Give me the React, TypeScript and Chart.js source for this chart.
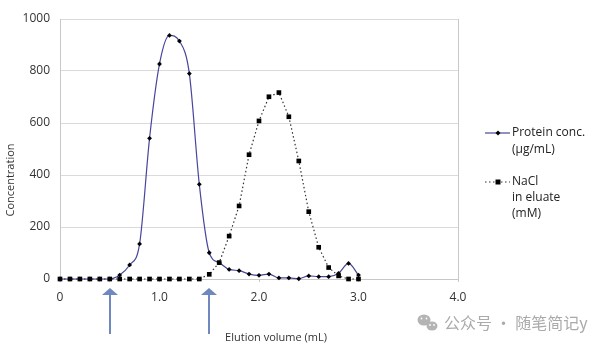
import { useEffect, useRef } from 'react';
import { Chart, registerables } from 'chart.js';

Chart.register(...registerables);

const elutionVolumes = [0.0, 0.1, 0.2, 0.3, 0.4, 0.5, 0.6, 0.7, 0.8, 0.9, 1.0, 1.1, 1.2, 1.3, 1.4, 1.5, 1.6, 1.7, 1.8, 1.9, 2.0, 2.1, 2.2, 2.3, 2.4, 2.5, 2.6, 2.7, 2.8, 2.9, 3.0];
const proteinConc = [0, 0, 0, 0, 0, 0, 15, 54, 135, 541, 827, 937, 915, 790, 364, 101, 63, 37, 32, 19, 14, 19, 4, 4, 1, 12, 9, 9, 22, 60, 15];
const naclConc = [0, 0, 0, 0, 0, 0, 0, 0, 0, 0, 0, 0, 0, 0, 0, 18, 63, 165, 281, 478, 608, 701, 717, 624, 454, 259, 122, 44, 12, 0, 0];
const xTickValues = [0, 1, 2, 3, 4];
const xTickLabels = ['0', '1.0', '2.0', '3.0', '4.0'];
const yTickValues = [0, 200, 400, 600, 800, 1000];
const yTickLabels = ['0', '200', '400', '600', '800', '1000'];
const arrowVolumes = [0.5, 1.5];
const proteinLegend = ['Protein conc.', '(µg/mL)'];
const naclLegend = ['NaCl', 'in eluate', '(mM)'];
const xTitle = 'Elution volume (mL)';
const yTitle = 'Concentration';
const watermark = '公众号 · 随笔简记y';

const FONT = '"Open Sans", "DejaVu Sans", sans-serif';
const PROTEIN_COLOR = '#46469c';
const NACL_COLOR = '#333333';
const ARROW_COLOR = '#7088bf';
const TEXT_COLOR = '#333333';

const extrasPlugin = {
  id: 'extras',
  afterDraw(chart: any) {
    const ctx = chart.ctx as CanvasRenderingContext2D;
    const xs = chart.scales.x;
    ctx.save();

    // arrows
    ctx.fillStyle = ARROW_COLOR;
    arrowVolumes.forEach((v) => {
      const px = Math.round(xs.getPixelForValue(v));
      ctx.beginPath();
      ctx.moveTo(px, 288);
      ctx.lineTo(px - 8, 295);
      ctx.lineTo(px + 8, 295);
      ctx.closePath();
      ctx.fill();
      ctx.fillRect(px - 1, 294, 2, 40);
    });

    // axis titles
    ctx.fillStyle = TEXT_COLOR;
    ctx.font = `11px ${FONT}`;
    ctx.textAlign = 'center';
    ctx.textBaseline = 'middle';
    ctx.fillText(xTitle, 276, 338);
    ctx.save();
    ctx.translate(11, 180);
    ctx.rotate(-Math.PI / 2);
    ctx.fillText(yTitle, 0, 0);
    ctx.restore();

    // legend
    ctx.font = `12px ${FONT}`;
    ctx.textAlign = 'left';
    ctx.fillStyle = '#222222';
    proteinLegend.forEach((t, i) => ctx.fillText(t, 512, 133 + i * 17));
    naclLegend.forEach((t, i) => ctx.fillText(t, 512, 182 + i * 16));
    ctx.strokeStyle = PROTEIN_COLOR;
    ctx.lineWidth = 1.2;
    ctx.beginPath();
    ctx.moveTo(485, 133);
    ctx.lineTo(510, 133);
    ctx.stroke();
    ctx.fillStyle = '#000';
    ctx.beginPath();
    ctx.moveTo(498, 130.5);
    ctx.lineTo(500.5, 133);
    ctx.lineTo(498, 135.5);
    ctx.lineTo(495.5, 133);
    ctx.closePath();
    ctx.fill();
    ctx.strokeStyle = NACL_COLOR;
    ctx.setLineDash([1.5, 2.5]);
    ctx.beginPath();
    ctx.moveTo(485, 182);
    ctx.lineTo(510, 182);
    ctx.stroke();
    ctx.setLineDash([]);
    ctx.fillStyle = '#000';
    ctx.fillRect(495.5, 179.5, 5, 5);

    // watermark
    ctx.fillStyle = '#b4b4b4';
    ctx.beginPath();
    ctx.ellipse(424, 320, 6.5, 5.5, 0, 0, Math.PI * 2);
    ctx.fill();
    ctx.beginPath();
    ctx.ellipse(432, 326, 5.5, 4.6, 0, 0, Math.PI * 2);
    ctx.fill();
    ctx.fillStyle = '#ffffff';
    [[421.5, 318.5], [426.5, 318.5], [430, 325], [434, 325]].forEach(([x, y]) => {
      ctx.beginPath();
      ctx.arc(x, y, 0.9, 0, Math.PI * 2);
      ctx.fill();
    });
    ctx.fillStyle = '#aaaaaa';
    ctx.font = `16px "Noto Sans CJK SC", ${FONT}`;
    ctx.textAlign = 'left';
    ctx.fillText(watermark, 444, 323);

    ctx.restore();
  },
};

export default function App() {
  const canvasRef = useRef<HTMLCanvasElement | null>(null);

  useEffect(() => {
    if (!canvasRef.current) return;
    const chart = new Chart(canvasRef.current, {
      type: 'line',
      data: {
        datasets: [
          {
            label: 'NaCl in eluate (mM)',
            data: elutionVolumes.map((x, i) => ({ x, y: naclConc[i] })),
            borderColor: NACL_COLOR,
            borderWidth: 1.2,
            borderDash: [1.5, 2.5],
            pointStyle: 'rect',
            pointRadius: 3.3,
            pointBackgroundColor: '#000',
            pointBorderColor: '#000',
            pointBorderWidth: 0,
            tension: 0,
            clip: false as any,
          },
          {
            label: 'Protein conc. (µg/mL)',
            data: elutionVolumes.map((x, i) => ({ x, y: proteinConc[i] })),
            borderColor: PROTEIN_COLOR,
            borderWidth: 1.2,
            pointStyle: 'rectRot',
            pointRadius: 2.4,
            pointBackgroundColor: '#000',
            pointBorderColor: '#000',
            pointBorderWidth: 0,
            cubicInterpolationMode: 'monotone',
            clip: false as any,
          },
        ],
      },
      options: {
        responsive: false,
        animation: false,
        devicePixelRatio: 1,
        layout: { padding: { left: 0, right: 147, top: 19, bottom: 0 } },
        plugins: { legend: { display: false }, tooltip: { enabled: false } },
        scales: {
          x: {
            type: 'linear',
            min: 0,
            max: 4,
            afterBuildTicks: (s: any) => {
              s.ticks = xTickValues.map((v) => ({ value: v }));
            },
            afterFit: (s: any) => {
              s.height = 70;
            },
            ticks: {
              padding: 8,
              color: TEXT_COLOR,
              font: { family: FONT, size: 12 },
              maxRotation: 0,
              callback: (v: any) => xTickLabels[xTickValues.indexOf(Number(v))],
            },
            grid: {
              drawOnChartArea: true,
              color: (c: any) => (c.tick && c.tick.value === 4 ? '#c8c8c8' : 'rgba(0,0,0,0)'),
              tickColor: '#c8c8c8',
              tickLength: 3,
              lineWidth: 1,
            },
            border: { display: true, color: '#c8c8c8' },
          },
          y: {
            type: 'linear',
            min: 0,
            max: 1000,
            afterBuildTicks: (s: any) => {
              s.ticks = yTickValues.map((v) => ({ value: v }));
            },
            afterFit: (s: any) => {
              s.width = 60;
            },
            ticks: {
              padding: 10,
              color: TEXT_COLOR,
              font: { family: FONT, size: 12 },
              callback: (v: any) => yTickLabels[yTickValues.indexOf(Number(v))],
            },
            grid: { color: '#dadada', drawTicks: false, lineWidth: 1 },
            border: { display: true, color: '#c8c8c8' },
          },
        },
      },
      plugins: [extrasPlugin],
    } as any);
    return () => chart.destroy();
  }, []);

  return (
    <div style={{ position: 'absolute', left: 0, top: 0, width: 605, height: 349, background: '#fff' }}>
      <canvas ref={canvasRef} width={605} height={349} style={{ display: 'block' }} />
    </div>
  );
}
